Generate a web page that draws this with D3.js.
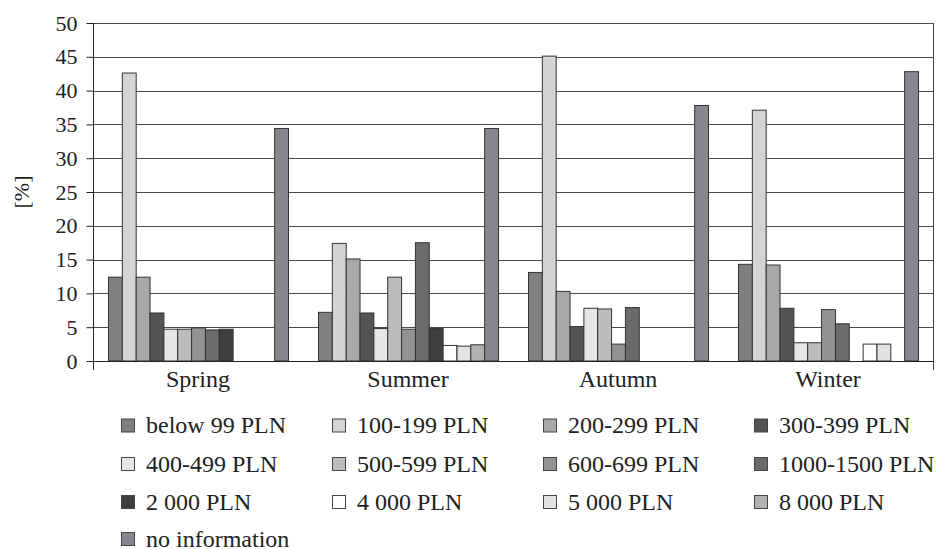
<!DOCTYPE html>
<html><head><meta charset="utf-8">
<script src="https://cdn.jsdelivr.net/npm/d3@7"></script>
<style>body{margin:0;background:#fff}</style>
</head><body><svg id="c" width="945" height="549"></svg>
<script>
const seasons = ["Spring","Summer","Autumn","Winter"];
const seriesNames = ["below 99 PLN","100-199 PLN","200-299 PLN","300-399 PLN","400-499 PLN","500-599 PLN","600-699 PLN","1000-1500 PLN","2 000 PLN","4 000 PLN","5 000 PLN","8 000 PLN","no information"];
const seriesColors = ["#7f7f81","#d4d4d6","#a8a8aa","#545456","#e6e6e8","#bcbcbe","#939395","#6b6b6d","#3e3e40","#ffffff","#e2e2e4","#b2b2b4","#88888c"];
const springValues = [12.4,42.6,12.4,7.1,4.7,4.7,4.9,4.6,4.7,0,0,0,34.4];
const summerValues = [7.2,17.4,15.1,7.1,4.8,12.4,4.7,17.5,4.8,2.3,2.2,2.4,34.4];
const autumnValues = [13.1,45.1,10.3,5.1,7.8,7.7,2.5,7.9,0,0,0,0,37.8];
const winterValues = [14.3,37.1,14.2,7.8,2.7,2.7,7.6,5.5,0,2.5,2.5,0,42.8];
const yTicks = [0,5,10,15,20,25,30,35,40,45,50];
const seasonValues = [springValues,summerValues,autumnValues,winterValues];

const FONT = "Liberation Serif";
const svg = d3.select("#c");
const L=93, R=933, T=23, B=361;
const x0 = d3.scaleBand().domain(seasons).range([L,R]).padding(0);
const x1 = d3.scaleBand().domain(seriesNames).range([0, x0.bandwidth()]).paddingOuter(15/13.85).paddingInner(0);
const y = d3.scaleLinear().domain([0,50]).range([B,T]);

// gridlines
svg.append("g").selectAll("line").data(yTicks.filter(d=>d>0)).join("line")
  .attr("x1",L).attr("x2",R).attr("y1",d=>Math.round(y(d))+0.5).attr("y2",d=>Math.round(y(d))+0.5)
  .attr("stroke","#4a4a4a").attr("stroke-width",1);

// bars
seasons.forEach((s,i)=>{
  svg.append("g").selectAll("rect").data(seasonValues[i].map((v,j)=>({v,j}))).join("rect")
    .filter(d=>d.v>0)
    .attr("x",d=>x0(s)+x1(seriesNames[d.j])+0.5)
    .attr("y",d=>y(d.v))
    .attr("width",x1.bandwidth())
    .attr("height",d=>B-y(d.v))
    .attr("fill",d=>seriesColors[d.j])
    .attr("stroke","#333").attr("stroke-width",1);
});

// y axis
const ya = svg.append("g").attr("transform",`translate(${L+0.5},0)`)
  .call(d3.axisLeft(y).tickValues(yTicks).tickSize(7).tickPadding(9).tickFormat(d3.format("d")));
ya.attr("font-family",FONT).attr("font-size",22);
ya.select(".domain").remove();
ya.selectAll("line").attr("stroke","#222");
ya.selectAll("text").attr("font-family",FONT).attr("font-size",22).attr("fill","#222");
svg.append("line").attr("x1",L+0.5).attr("x2",L+0.5).attr("y1",T).attr("y2",B+9).attr("stroke","#222");
svg.append("line").attr("x1",R+0.5).attr("x2",R+0.5).attr("y1",T).attr("y2",B+9).attr("stroke","#444");
// x baseline
svg.append("line").attr("x1",L).attr("x2",R+1).attr("y1",B+0.5).attr("y2",B+0.5).attr("stroke","#222");

// x axis labels
const xa = svg.append("g").attr("transform",`translate(0,${B})`)
  .call(d3.axisBottom(x0).tickSize(0).tickPadding(9));
xa.attr("font-family",FONT).attr("font-size",24);
xa.select(".domain").remove();
xa.selectAll("text").attr("font-family",FONT).attr("font-size",24).attr("fill","#222");

// y label
svg.append("text").attr("transform","translate(22,192) rotate(-90)").attr("text-anchor","middle")
  .attr("dy","0.33em").attr("font-size",22).attr("fill","#222").attr("font-family",FONT).text("[%]");

// legend
const colX = [121,332,543,754], rowY = [425.5,464,502,539];
const lg = svg.append("g").selectAll("g").data(seriesNames).join("g")
  .attr("transform",(d,i)=>`translate(${colX[i%4]},${rowY[Math.floor(i/4)]})`);
lg.append("rect").attr("x",0.5).attr("y",-6.5).attr("width",13).attr("height",13)
  .attr("fill",(d,i)=>seriesColors[i]).attr("stroke","#444");
lg.append("text").attr("x",25).attr("y",0).attr("dy","0.33em").attr("font-size",24)
  .attr("fill","#222").attr("font-family",FONT).text(d=>d);
</script></body></html>
